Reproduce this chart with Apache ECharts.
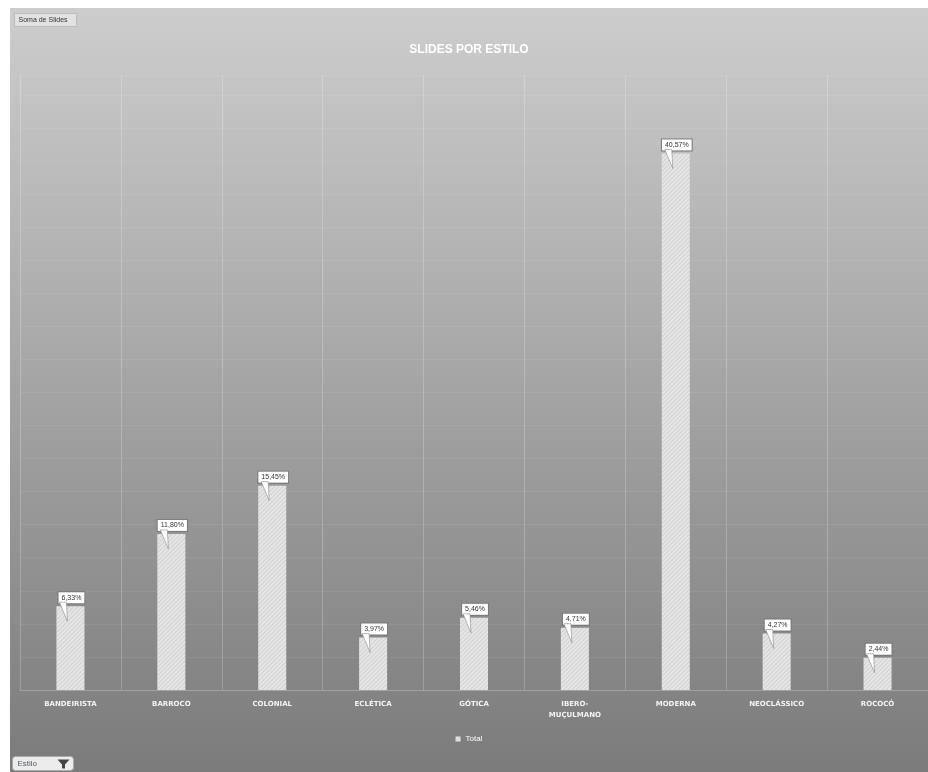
<!DOCTYPE html>
<html>
<head>
<meta charset="utf-8">
<script src="https://cdn.jsdelivr.net/npm/echarts@6/dist/echarts.min.js"></script>
<style>
html,body{margin:0;padding:0;background:#ffffff;}
#chart{position:absolute;left:10px;top:8px;width:918px;height:764px;}
</style>
</head>
<body>
<div id="chart"></div>
<script>
var categories = ['BANDEIRISTA','BARROCO','COLONIAL','ECLÉTICA','GÓTICA','IBERO-\nMUÇULMANO','MODERNA','NEOCLÁSSICO','ROCOCÓ'];
var percentValues = [6.33, 11.80, 15.45, 3.97, 5.46, 4.71, 40.57, 4.27, 2.44];
var seriesName = 'Total';
var chartTitle = 'SLIDES POR ESTILO';
var fieldLabel = 'Soma de Slides';
var filterLabel = 'Estilo';

function fmtPct(v){ return v.toFixed(2).replace('.', ',') + '%'; }

var chart = echarts.init(document.getElementById('chart'));
var option = {
  backgroundColor: new echarts.graphic.LinearGradient(0,0,0,1,[
    {offset:0,color:'#cdcdcd'},{offset:1,color:'#7b7b7b'}
  ]),
  animation:false,
  title:{
    text: chartTitle, left:'center', top:31,
    textStyle:{color:'#ffffff', fontSize:12, fontWeight:'bold', fontFamily:'Liberation Sans'}
  },
  legend:{
    data:[seriesName], bottom:24, left:'center',
    itemWidth:5, itemHeight:5, icon:'rect',
    textStyle:{color:'#ffffff', fontSize:8, fontFamily:'Liberation Sans'}
  },
  grid:{left:10, right:0, top:67, bottom:82},
  xAxis:{
    type:'category', data:categories,
    axisLine:{show:true, lineStyle:{color:'rgba(255,255,255,0.2)'}},
    axisTick:{show:false},
    splitLine:{show:true, lineStyle:{color:'rgba(255,255,255,0.22)', width:1}},
    axisLabel:{color:'#f4f4f4', fontSize:7, fontWeight:'bold', fontFamily:'DejaVu Sans', margin:9, lineHeight:11, interval:0}
  },
  yAxis:{
    type:'value', min:0, max:46.5, interval:2.5, show:true,
    axisLine:{show:false}, axisTick:{show:false}, axisLabel:{show:false},
    splitLine:{show:true, lineStyle:{color:'rgba(255,255,255,0.07)'}}
  },
  series:[
    {
      name: seriesName, type:'bar', data: percentValues, barWidth:28,
      itemStyle:{
        color:'#e6e6e6',
        decal:{color:'rgba(160,160,160,0.3)', dashArrayX:[1,0], dashArrayY:[1,2], rotation:-Math.PI/4, symbolSize:1}
      },
      label:{
        show:true, position:'top', distance:3,
        formatter:function(p){ return fmtPct(p.value); },
        color:'#333333', fontSize:7, fontFamily:'Liberation Sans',
        backgroundColor:'#ffffff', borderColor:'#777777', borderWidth:1,
        padding:[2,3,2,3], offset:[1,0]
      },
      z:2
    },
    {
      name:'pointer', type:'custom', data: percentValues, z:5, silent:true,
      renderItem:function(params, api){
        var pt = api.coord([params.dataIndex, api.value(0)]);
        return {
          type:'polygon',
          shape:{points:[[pt[0]-11, pt[1]-4],[pt[0]-4, pt[1]-4],[pt[0]-3, pt[1]+15]]},
          style:{fill:'#ffffff', stroke:'#888888', lineWidth:0.6}
        };
      },
      encode:{x:-1, y:0}
    }
  ],
  graphic:[
    {type:'group', left:4, top:5, children:[
      {type:'rect', shape:{x:0,y:0,width:62,height:13}, style:{fill:'#e2e2e2', stroke:'#bbbbbb'}},
      {type:'text', x:4, y:3, style:{text:fieldLabel, fill:'#333333', fontSize:7, fontFamily:'Liberation Sans'}}
    ]},
    {type:'group', left:2, top:748, children:[
      {type:'rect', shape:{x:0,y:0,width:61,height:14,r:3}, style:{fill:'#ececec', stroke:'#aaaaaa'}},
      {type:'text', x:5, y:3, style:{text:filterLabel, fill:'#4a5a80', fontSize:8, fontFamily:'Liberation Sans'}},
      {type:'polygon', shape:{points:[[45,3],[57,3],[52.5,8],[52.5,12],[49.5,12],[49.5,8]]}, style:{fill:'#444444'}}
    ]}
  ]
};
chart.setOption(option);
</script>
</body>
</html>
